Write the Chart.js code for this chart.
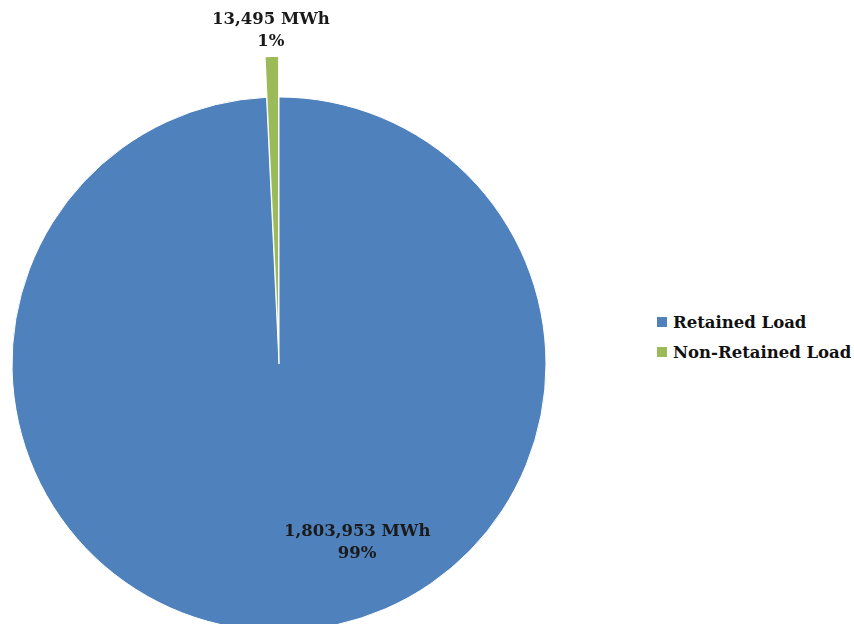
<!DOCTYPE html>
<html>
<head>
<meta charset="utf-8">
<script src="https://cdn.jsdelivr.net/npm/chart.js@4.4.1/dist/chart.umd.min.js"></script>
<style>
  html, body { margin: 0; padding: 0; background: #fff; overflow: hidden; }
  body { width: 854px; height: 624px; position: relative; }
  #chart { position: absolute; left: 0; top: 0; }
  #legend { position: absolute; left: 657px; top: 308px; font: bold 16.5px "DejaVu Serif", serif; color: #111; }
  #legend div { height: 30px; line-height: 29px; white-space: nowrap; }
  #legend span { display: inline-block; width: 10px; height: 10px; margin-right: 6px; vertical-align: 1px; }
</style>
</head>
<body>
<canvas id="chart" width="558" height="728"></canvas>
<div id="legend"></div>
<script>
// data
const categories = ['Retained Load', 'Non-Retained Load'];
const loadMWh = [1803953, 13495];
const percentLabels = ['99%', '1%'];
const sliceColors = ['#4F81BD', '#9BBB59'];

function fmt(n) {
  return n.toLocaleString('en-US') + ' MWh';
}

// pulls slices out like an exploded Excel pie (Chart.js offset also narrows the wedge)
const explode = {
  id: 'explode',
  beforeDatasetDraw(chart, args, opts) {
    const ctx = chart.ctx;
    args.meta.data.forEach((arc, i) => {
      const d = opts.pull[i] || 0;
      const mid = (arc.startAngle + arc.endAngle) / 2;
      ctx.save();
      ctx.translate(Math.cos(mid) * d, Math.sin(mid) * d);
      arc.draw(ctx, chart.chartArea);
      ctx.restore();
    });
    return false;
  }
};

// draws the "value / percent" labels next to each slice
const sliceLabels = {
  id: 'sliceLabels',
  afterDatasetsDraw(chart) {
    const ctx = chart.ctx;
    const arcs = chart.getDatasetMeta(0).data;
    const pull = chart.options.plugins.explode.pull;
    ctx.save();
    ctx.font = 'bold 16.5px "DejaVu Serif", serif';
    ctx.fillStyle = '#1a1a1a';
    ctx.textAlign = 'center';
    ctx.textBaseline = 'middle';
    arcs.forEach((arc, i) => {
      let lx, ly;
      if (i === 1) {
        // small slice: label above the pulled-out wedge
        const mid = (arc.startAngle + arc.endAngle) / 2;
        const r = arc.outerRadius + pull[i];
        lx = arc.x + Math.cos(mid) * r - 1;
        ly = arc.y + Math.sin(mid) * r - 37;
      } else {
        const a = (156 - 90) * Math.PI / 180;
        lx = arc.x + Math.cos(a) * arc.outerRadius * 0.72;
        ly = arc.y + Math.sin(a) * arc.outerRadius * 0.72 - 8;
      }
      ctx.fillText(fmt(loadMWh[i]), lx, ly);
      ctx.fillText(percentLabels[i], lx, ly + 22);
    });
    ctx.restore();
  }
};

new Chart(document.getElementById('chart').getContext('2d'), {
  type: 'pie',
  data: {
    labels: categories,
    datasets: [{
      data: loadMWh,
      backgroundColor: sliceColors,
      borderColor: '#ffffff',
      borderWidth: [1, 0],
      hoverOffset: 0
    }]
  },
  options: {
    responsive: false,
    animation: false,
    radius: 267,
    plugins: {
      legend: { display: false },
      tooltip: { enabled: false },
      explode: { pull: [0, 40] }
    }
  },
  plugins: [explode, sliceLabels]
});

const legend = document.getElementById('legend');
categories.forEach((c, i) => {
  const row = document.createElement('div');
  const box = document.createElement('span');
  box.style.background = sliceColors[i];
  row.appendChild(box);
  row.appendChild(document.createTextNode(c));
  legend.appendChild(row);
});
</script>
</body>
</html>
